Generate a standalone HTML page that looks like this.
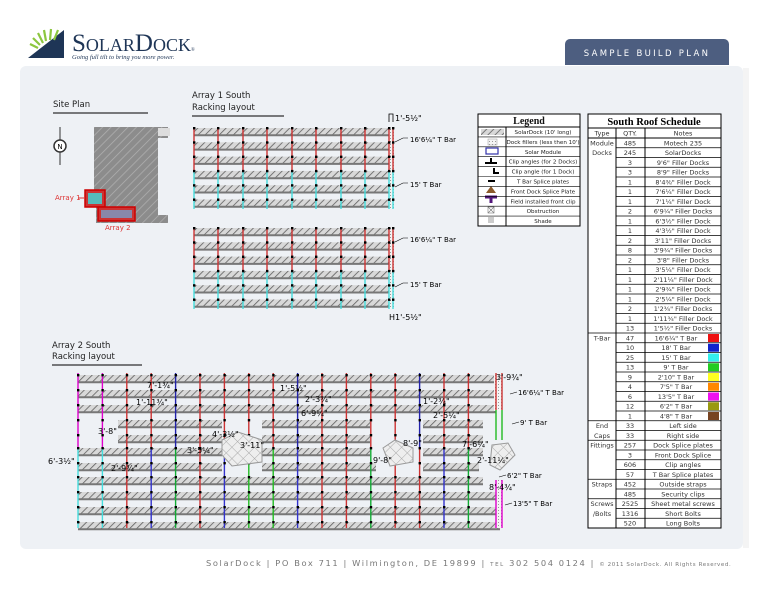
<!DOCTYPE html>
<html><head><meta charset="utf-8">
<style>
html,body{margin:0;padding:0;background:#fff;}
body{width:768px;height:594px;overflow:hidden;position:relative;font-family:"DejaVu Sans","Liberation Sans",sans-serif;}
</style></head><body>
<svg id="s" width="768" height="594" xmlns="http://www.w3.org/2000/svg" style="position:absolute;left:0;top:0">
<defs>
<pattern id="h" width="5" height="5" patternUnits="userSpaceOnUse" patternTransform="rotate(45)">
<rect width="5" height="5" fill="#d8d8d8"/><line x1="0" y1="0" x2="0" y2="5" stroke="#5f5f5f" stroke-width="1.6"/></pattern>
<pattern id="d" width="3" height="3" patternUnits="userSpaceOnUse"><rect width="3" height="3" fill="#f4f4f4"/><rect width="1" height="1" fill="#999"/></pattern>
<pattern id="sp" width="6" height="6" patternUnits="userSpaceOnUse" patternTransform="rotate(45)"><rect width="6" height="6" fill="#8c8c8c"/><line x1="0" y1="0" x2="0" y2="6" stroke="#b0b0b0" stroke-width="1.5"/></pattern>
<pattern id="x" width="8" height="8" patternUnits="userSpaceOnUse" patternTransform="rotate(45)"><rect width="8" height="8" fill="#eee"/><path d="M0 0H8M0 0V8" stroke="#aaa" stroke-width="1"/></pattern>
</defs>
<polygon points="28,58 64,30 64,58" fill="#1e3556"/>
<g stroke="#8cc63f" stroke-width="2.2"><line x1="38" y1="48" x2="30" y2="44"/><line x1="40" y1="45" x2="33" y2="38"/><line x1="43" y1="43" x2="38" y2="33"/><line x1="46" y1="41" x2="44" y2="30"/><line x1="50" y1="40" x2="51" y2="29"/><line x1="54" y1="40" x2="58" y2="30"/></g>
<text x="72" y="51" font-family="Liberation Serif,serif" font-size="25" fill="#1e3556">S<tspan font-size="18">OLAR</tspan>D<tspan font-size="18">OCK</tspan><tspan font-size="5">®</tspan></text>
<text x="72" y="59" font-family="Liberation Serif,serif" font-style="italic" font-size="6.5" fill="#1e3556">Going full tilt to bring you more power.</text>
<path d="M565 65V44a5 5 0 0 1 5-5h154a5 5 0 0 1 5 5v21z" fill="#4d5e80"/>
<text x="647" y="56" text-anchor="middle" font-size="8.5" letter-spacing="2.3" fill="#fff">SAMPLE BUILD PLAN</text>
<rect x="20" y="66" width="723" height="483" rx="6" fill="#eef1f5"/>
<rect x="743" y="68" width="6" height="480" fill="#f4f4f4"/>
<g font-size="8.5" fill="#222">
<text x="53" y="107">Site Plan</text><line x1="53" y1="113" x2="148" y2="113" stroke="#000"/>
<text x="192" y="98">Array 1 South</text><text x="192" y="110">Racking layout</text><line x1="192" y1="116" x2="284" y2="116" stroke="#000"/>
<text x="52" y="348">Array 2 South</text><text x="52" y="359">Racking layout</text><line x1="52" y1="365" x2="142" y2="365" stroke="#000"/>
</g>
<line x1="60" y1="127" x2="60" y2="165" stroke="#333"/><circle cx="60" cy="146" r="6" fill="#fff" stroke="#333" stroke-width="1.5"/><text x="60" y="149" font-size="7" text-anchor="middle">N</text>
<path d="M94 127H168V138H158V215H168V223H96V205H94Z" fill="url(#sp)"/>
<rect x="158" y="128" width="12" height="8" fill="#ddd"/>
<rect x="85" y="190" width="20" height="17" fill="#c33" stroke="#c00" stroke-width="1.5"/><rect x="88" y="193" width="14" height="11" fill="#5bb"/>
<rect x="98" y="207" width="37" height="14" fill="#c33" stroke="#c00" stroke-width="1.5"/><rect x="101" y="210" width="31" height="8" fill="#88a"/>
<text x="55" y="200" font-size="7" fill="#d33">Array 1</text><line x1="78" y1="198" x2="85" y2="198" stroke="#d33"/>
<text x="105" y="230" font-size="7" fill="#d33">Array 2</text>
<g id="g"></g>
<g font-size="5.5" fill="#111">
<rect x="478" y="114" width="102" height="112" fill="#fff" stroke="#000"/>
<text x="529" y="124" text-anchor="middle" font-family="Liberation Serif,serif" font-weight="bold" font-size="10">Legend</text>
<line x1="478" y1="127" x2="580" y2="127" stroke="#000"/><line x1="506" y1="127" x2="506" y2="226" stroke="#000"/>
<rect x="481" y="129" width="23" height="6" fill="url(#h)"/>
<rect x="488" y="139" width="9" height="6" fill="url(#d)" stroke="#999" stroke-width=".5"/>
<rect x="486" y="148" width="12" height="6" fill="#fff" stroke="#33a" stroke-width="1.2"/>
<path d="M485 163H497M491 158V163" stroke="#000" stroke-width="2"/>
<path d="M494 168V173H499" stroke="#000" stroke-width="2" fill="none"/>
<line x1="488" y1="181" x2="495" y2="181" stroke="#000" stroke-width="2"/>
<polygon points="491,186 486,193 496,193" fill="#8b5a2b"/>
<path d="M485 197H497M491 197V203" stroke="#52177a" stroke-width="3"/>
<rect x="488" y="207" width="6" height="6" fill="#fff" stroke="#777" stroke-width=".6"/><path d="M488 207l6 6M494 207l-6 6" stroke="#777" stroke-width=".6"/>
<rect x="488" y="217" width="6" height="6" fill="#ccc"/>
</g>
<g id="lg" font-size="5.6" fill="#222"></g>
<rect x="588" y="114" width="133" height="414" fill="#fff" stroke="#000"/>
<text x="654" y="125" text-anchor="middle" font-family="Liberation Serif,serif" font-weight="bold" font-size="10.5">South Roof Schedule</text>
<g id="tb" font-size="6.5" fill="#333"></g>
<text x="206" y="566" font-size="8.3" fill="#777" letter-spacing="1.6">SolarDock  |  PO Box 711  |  Wilmington, DE 19899  |  <tspan font-size="5.5">TEL</tspan> 302 504 0124  |  <tspan font-size="5.5" letter-spacing=".6">© 2011 SolarDock. All Rights Reserved.</tspan></text>
</svg>
<script>
var NS="http://www.w3.org/2000/svg",g=document.getElementById('g');
function el(t,a,p,txt){if(typeof p==='string'){txt=p;p=null;}var e=document.createElementNS(NS,t);for(var k in a)e.setAttribute(k,a[k]);if(txt)e.textContent=txt;(p||g).appendChild(e);return e;}
function strip(x,y,w){el('rect',{x:x,y:y,width:w,height:6.5,fill:'url(#h)'});el('line',{x1:x,y1:y+7.3,x2:x+w,y2:y+7.3,stroke:'#777','stroke-width':2});}
function post(x,y1,y2,c){el('line',{x1:x,y1:y1,x2:x,y2:y2,stroke:c,'stroke-width':1.4});}
[127,227].forEach(function(y0){
 for(var i=0;i<6;i++)strip(194,y0+i*14.3+1,195);
 el('rect',{x:389,y:y0,width:5,height:82,fill:'url(#d)'});
 var xs=[194,218,243,267,292,316,341,365,389,393];
 xs.forEach(function(x){post(x,y0,y0+43,'#c33');post(x,y0+43,y0+82,'#4dd');
  for(var i=0;i<6;i++)el('rect',{x:x-1,y:y0+i*14.3,width:2.4,height:2.4,fill:'#000'});});
 el('path',{d:'M395 '+(y0+15)+'l8 -4h5 M395 '+(y0+60)+'l8 -4h5',stroke:'#000',fill:'none','stroke-width':.6});
 el('text',{x:410,y:y0+15,'font-size':7},'16\'6¼" T Bar');el('text',{x:410,y:y0+60,'font-size':7},'15\' T Bar');
});
el('text',{x:395,y:121,'font-size':8},'1\'-5½"');el('path',{d:'M389 122V114H393V122',stroke:'#000',fill:'none','stroke-width':.8});
el('text',{x:389,y:320,'font-size':8},'H1\'-5½"');
var ys=[375,390,405,420,435,448,463,477,492,507,522];
ys.forEach(function(y,i){
 if(i==3||i==4){strip(118,y,104);strip(262,y,108);strip(423,y,60);}
 else if(i==5){strip(78,y,144);strip(262,y,108);strip(423,y,60);}
 else if(i==6){strip(78,y,144);strip(262,y,114);strip(423,y,56);}
 else strip(78,y,i<3?418:(i>7?422:405));
});
el('rect',{x:494,y:373,width:8,height:38,fill:'url(#d)'});el('rect',{x:496,y:480,width:8,height:48,fill:'url(#d)'});
for(var k=0;k<17;k++){var x=78+k*24.4;
 var ctop=k<2?'#d0c':'#c33',cbot=k<2?'#4dd':(k%4==0?'#1a3':(k%3==0?'#33c':'#c33'));
 if(k==7||k==8)cbot='#2b2';
 post(x,373,448,k%5==4?'#22a':ctop);post(x,448,528,cbot);
 ys.forEach(function(y){el('rect',{x:x-1,y:y-1,width:2.4,height:2.4,fill:'#000'});});}
post(496,373,410,'#c33');post(502,373,410,'#c33');post(496,410,440,'#2b2');post(502,410,440,'#2b2');post(496,480,528,'#d0c');post(502,480,528,'#d0c');
el('polygon',{points:'222,440 238,432 262,440 262,462 232,466 222,455',fill:'url(#x)',stroke:'#999'});
el('polygon',{points:'383,448 395,440 413,448 413,462 390,466',fill:'url(#x)',stroke:'#999'});
el('polygon',{points:'492,445 508,443 515,455 500,470 490,465',fill:'url(#x)',stroke:'#999'});
var lb=[[496,380,'3\'-9¾"'],[147,388,'7\'-1¾"'],[136,405,'1\'-11¾"'],[280,391,'1\'-5½"'],[305,402,'2\'-3¾"'],[301,416,'6\'-9¼"'],[423,404,'1\'-2¾"'],[433,418,'2\'-5¼"'],[98,434,'3\'-8"'],[212,437,'4\'-3½"'],[187,453,'3\'-5¼"'],[240,448,'3\'-11"'],[403,446,'8\'-9"'],[462,447,'7\'-6¼"'],[48,464,'6\'-3½"'],[111,471,'2\'-9¾"'],[373,463,'9\'-8"'],[477,463,'2\'-11¼"'],[489,490,'8\'-4¾"']];
lb.forEach(function(l){el('text',{x:l[0],y:l[1],'font-size':8},l[2]);});
[[518,395,'16\'6¼" T Bar'],[520,425,'9\' T Bar'],[507,478,'6\'2" T Bar'],[513,506,'13\'5" T Bar']].forEach(function(l){el('line',{x1:l[0]-8,y1:l[1]-1,x2:l[0]-1,y2:l[1]-3,stroke:'#000','stroke-width':.6});el('text',{x:l[0],y:l[1],'font-size':7},l[2]);});
var lgt=['SolarDock (10\' long)','Dock fillers (less then 10\')','Solar Module','Clip angles (for 2 Docks)','Clip angle (for 1 Dock)','T Bar Splice plates','Front Dock Splice Plate','Field installed front clip','Obstruction','Shade'];
var lg=document.getElementById('lg');
lgt.forEach(function(t,i){var y=127+i*9.9;el('text',{x:543,y:y+7,'text-anchor':'middle'},lg,t);el('line',{x1:478,y1:y+9.9,x2:580,y2:y+9.9,stroke:'#000','stroke-width':.6},lg);});
var tb=document.getElementById('tb');
var rows=[['Module','485','Motech 235'],['Docks','245','SolarDocks'],['','3','9\'6" Filler Docks'],['','3','8\'9" Filler Docks'],['','1','8\'4⅜" Filler Dock'],['','1','7\'6¼" Filler Dock'],['','1','7\'1¼" Filler Dock'],['','2','6\'9¼" Filler Docks'],['','1','6\'3½" Filler Dock'],['','1','4\'3½" Filler Dock'],['','2','3\'11" Filler Docks'],['','8','3\'9¾" Filler Docks'],['','2','3\'8" Filler Docks'],['','1','3\'5¼" Filler Dock'],['','1','2\'11¼" Filler Dock'],['','1','2\'9¾" Filler Dock'],['','1','2\'5¼" Filler Dock'],['','2','1\'2¾" Filler Docks'],['','1','1\'11¾" Filler Dock'],['','13','1\'5½" Filler Docks'],
['T-Bar','47','16\'6¼" T Bar','#e11'],['','10','18\' T Bar','#12c'],['','25','15\' T Bar','#3ee'],['','13','9\' T Bar','#2c2'],['','9','2\'10" T Bar','#ff2'],['','4','7\'5" T Bar','#f80'],['','6','13\'5" T Bar','#e1e'],['','12','6\'2" T Bar','#991'],['','1','4\'8" T Bar','#742'],
['End','33','Left side'],['Caps','33','Right side'],['Fittings','257','Dock Splice plates'],['','3','Front Dock Splice'],['','606','Clip angles'],['','57','T Bar Splice plates'],['Straps','452','Outside straps'],['','485','Security clips'],['Screws','2525','Sheet metal screws'],['/Bolts','1316','Short Bolts'],['','520','Long Bolts']];
var first=[0,20,29,31,35,37];
el('line',{x1:588,y1:128,x2:721,y2:128,stroke:'#000'},tb);
el('text',{x:602,y:135.5,'text-anchor':'middle'},tb,'Type');el('text',{x:630,y:135.5,'text-anchor':'middle'},tb,'QTY.');el('text',{x:683,y:135.5,'text-anchor':'middle'},tb,'Notes');
el('line',{x1:588,y1:138,x2:721,y2:138,stroke:'#000'},tb);
el('line',{x1:616,y1:128,x2:616,y2:528,stroke:'#000'},tb);el('line',{x1:645,y1:128,x2:645,y2:528,stroke:'#000'},tb);
rows.forEach(function(r,i){var y=138+i*9.75;
 if(r[0])el('text',{x:602,y:y+7.3,'text-anchor':'middle'},tb,r[0]);
 el('text',{x:630,y:y+7.3,'text-anchor':'middle'},tb,r[1]);
 el('text',{x:r[3]?676:683,y:y+7.3,'text-anchor':'middle'},tb,r[2]);
 if(r[3])el('rect',{x:708,y:y+1,width:11,height:8,fill:r[3]},tb);
 var yy=y+9.75;var full=first.indexOf(i+1)>=0;
 el('line',{x1:full?588:616,y1:yy,x2:721,y2:yy,stroke:'#000','stroke-width':.8},tb);
});
</script>
</body></html>
